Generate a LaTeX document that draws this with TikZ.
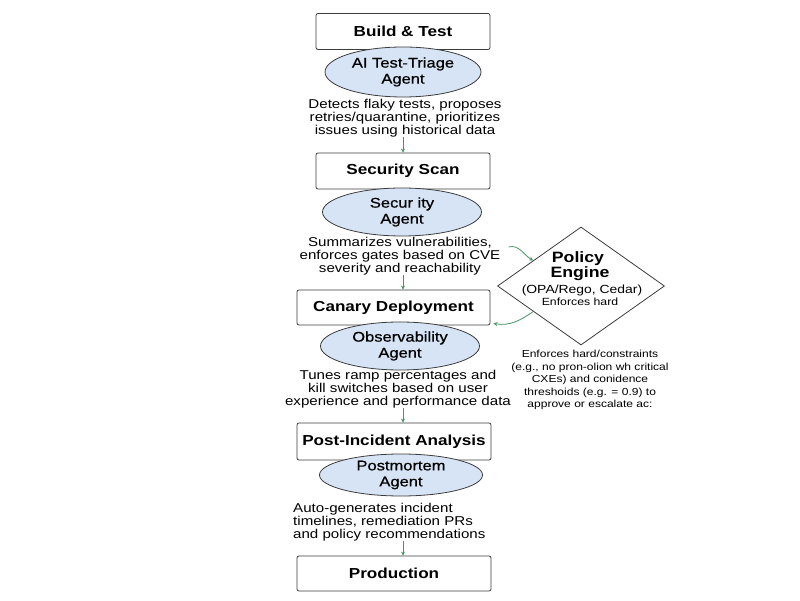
\documentclass[tikz,border=0pt]{standalone}
\usepackage{fontspec}
\setmainfont{Liberation Sans}[FakeStretch=1.18]
\usetikzlibrary{shapes.geometric,arrows.meta,calc}
\definecolor{agentfill}{RGB}{214,228,245}
\definecolor{edge}{RGB}{60,60,60}
\definecolor{arrowgreen}{RGB}{70,150,100}
\begin{document}
\begin{tikzpicture}[x=1pt,y=1pt,
  stagebox/.style={draw=edge,line width=0.8pt,rounded corners=2pt,minimum height=36pt,inner sep=0pt,font=\fontsize{14.5}{18}\selectfont\bfseries},
  agent/.style={ellipse,draw=edge,line width=0.8pt,fill=agentfill,inner sep=0pt,align=center,font=\fontsize{14}{16}\selectfont\addfontfeature{FakeBold=0.6}},
  desc/.style={inner sep=0pt,align=center,font=\fontsize{12.8}{12.8}\selectfont},
  petxt/.style={inner sep=0pt,anchor=base},
  arr/.style={draw=arrowgreen,line width=0.8pt,-{Stealth[length=4pt,width=4pt]}}]
\useasboundingbox (0,0) rectangle (800,600);
% stages
\node[stagebox,minimum width=174pt] (b1) at (403,568.5) {Build \& Test};
\node[agent,minimum width=156pt,minimum height=50pt] (e1) at (403,528) {AI Test-Triage\\Agent};
\node[desc] (d1) at (405,482) {Detects flaky tests, proposes\\retries/quarantine, prioritizes\\issues using historical data};
\node[stagebox,minimum width=174pt] (b2) at (403,429) {Security Scan};
\node[agent,minimum width=159pt,minimum height=48pt] (e2) at (402,388) {Secur ity\\Agent};
\node[desc] (d2) at (400,344) {Summarizes vulnerabilities,\\enforces gates based on CVE\\severity and reachability};
\node[stagebox,minimum width=193pt,minimum height=35pt] (b3) at (393.5,292.5) {Canary Deployment};
\node[agent,minimum width=159pt,minimum height=48pt] (e3) at (400,254) {Observability\\Agent};
\node[desc] (d3) at (398,211) {Tunes ramp percentages and\\kill switches based on user\\experience and performance data};
\node[stagebox,minimum width=194pt,minimum height=37pt] (b4) at (394,158.5) {Post-Incident Analysis};
\node[agent,minimum width=163pt,minimum height=42pt] (e4) at (401,125) {Postmortem\\Agent};
\node[desc,align=left,anchor=west] (d4) at (293,78) {Auto-generates incident\\timelines, remediation PRs\\and policy recommendations};
\node[stagebox,minimum width=194pt,minimum height=35pt] (b5) at (394,26.5) {Production};
% policy engine
\node[diamond,draw=edge,line width=0.8pt,minimum width=167pt,minimum height=118pt,inner sep=0pt] (pe) at (581,314) {};
\node[petxt,font=\fontsize{15}{16}\selectfont\bfseries] (pet1) at (578,337) {Policy};
\node[petxt,font=\fontsize{15}{16}\selectfont\bfseries] (pet2) at (580,322) {Engine};
\node[petxt,font=\fontsize{11.8}{14}\selectfont] (pet3) at (582,306) {(OPA/Rego, Cedar)};
\node[petxt,font=\fontsize{10.4}{13}\selectfont] (pet4) at (580,294) {Enforces hard};
\node[inner sep=0pt,align=center,font=\fontsize{10.2}{12.6}\selectfont] (pnote) at (590,220) {Enforces hard/constraints\\(e.g., no pron-olion wh critical\\CXEs) and conidence\\threshoids (e.g. = 0.9) to\\approve or escalate ac:};
% flow arrows
\draw[arr] (d1.south -| b1.center) -- (b2.north);
\draw[arr] (d2.south -| b2.center) -- (b3.north -| b2.center);
\draw[arr] (d3.south -| b2.center) -- (b4.north -| b2.center);
\draw[arr] (d4.south -| b2.center) -- (b5.north -| b2.center);
% policy arrows
\draw[arr] ($(d2.east)+(8,9)$) to[out=15,in=150] ($(pe.west)!0.43!(pe.north)$);
\draw[arr] ($(pe.west)!0.43!(pe.south)$) to[out=-145,in=-10] ($(b3.south east)+(3,2)$);
\end{tikzpicture}
\end{document}
